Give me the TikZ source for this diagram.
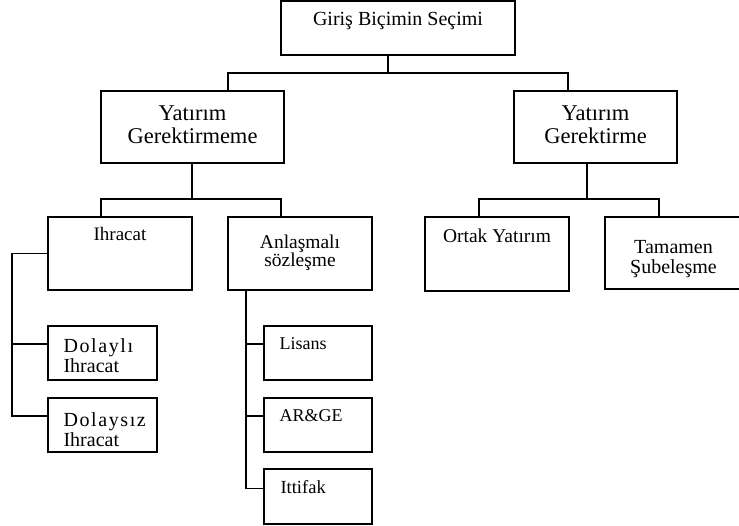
\documentclass[tikz,border=0pt]{standalone}
\usepackage{fontspec}
\setmainfont{Liberation Serif}
\newcommand{\spaced}[1]{{\addfontfeature{LetterSpace=8}#1}}

\begin{document}
\begin{tikzpicture}[x=1pt, y=-1pt, line width=1.1pt,
    box/.style={draw, rectangle, outer sep=0pt, inner sep=0pt, anchor=north west},
    txt/.style 2 args={inner sep=0pt, align=center, font=\fontsize{#1}{#2}\selectfont}]

    \useasboundingbox (0,0) rectangle (739,526);

    % level 0 and 1
    \node[box, minimum width=234, minimum height=54,
          label={[txt={20}{22}, anchor=north, yshift=-11pt]north:Giriş Biçimin Seçimi}] (top) at (281,1) {};
    \node[box, minimum width=183, minimum height=72,
          label={[txt={22.5}{23}, anchor=north, yshift=-14pt]north:{Yatırım\\Gerektirmeme}}] (ygm) at (101,91) {};
    \node[box, minimum width=163, minimum height=72,
          label={[txt={22.5}{23}, anchor=north, yshift=-14pt]north:{Yatırım\\Gerektirme}}] (yg) at (514,91) {};

    % level 2
    \node[box, minimum width=144, minimum height=73,
          label={[txt={19}{20}, anchor=north, yshift=-10pt]north:Ihracat}] (ihr) at (48,217) {};
    \node[box, minimum width=144, minimum height=73,
          label={[txt={19.5}{18}, anchor=north, yshift=-17pt]north:{Anlaşmalı\\sözleşme}}] (ans) at (228,217) {};
    \node[box, minimum width=144, minimum height=74,
          label={[txt={19.5}{20}, anchor=north, yshift=-11pt]north:Ortak Yatırım}] (ort) at (425,217) {};
    \node[box, minimum width=137, minimum height=72,
          label={[txt={20}{20}, anchor=north, yshift=-23pt]north:{Tamamen\\Şubeleşme}}] (tam) at (605,217) {};

    % level 3
    \node[box, minimum width=109, minimum height=54,
          label={[txt={20}{20}, align=left, anchor=north west, xshift=15pt, yshift=-12pt]north west:{\spaced{Dolaylı}\\Ihracat}}] (dly) at (48,326) {};
    \node[box, minimum width=109, minimum height=54,
          label={[txt={20}{20}, align=left, anchor=north west, xshift=15pt, yshift=-14pt]north west:{\spaced{Dolaysız}\\Ihracat}}] (dsz) at (48,398) {};
    \node[box, minimum width=108, minimum height=54,
          label={[txt={18}{20}, anchor=north west, xshift=15pt, yshift=-11pt]north west:Lisans}] (lis) at (264,326) {};
    \node[box, minimum width=108, minimum height=54,
          label={[txt={18}{20}, anchor=north west, xshift=15pt, yshift=-11pt]north west:AR\&GE}] (arg) at (264,398) {};
    \node[box, minimum width=108, minimum height=55,
          label={[txt={18.5}{20}, anchor=north west, xshift=16pt, yshift=-11pt]north west:Ittifak}] (itt) at (264,469) {};

    % connectors
    \draw ([xshift=107pt]top.south west) -- ++(0,18) coordinate (j1);
    \draw (j1) -| ([xshift=127pt]ygm.north west);
    \draw (j1) -| ([xshift=54pt]yg.north west);

    \draw ([xshift=91pt]ygm.south west) -- ++(0,36) coordinate (j2);
    \draw (j2) -| ([xshift=53pt]ihr.north west);
    \draw (j2) -| ([xshift=53pt]ans.north west);

    \draw ([xshift=73pt]yg.south west) -- ++(0,36) coordinate (j3);
    \draw (j3) -| ([xshift=54pt]ort.north west);
    \draw (j3) -| ([xshift=54pt]tam.north west);

    \draw (ihr.west) -- ++(-36,0) |- ([yshift=9pt]dsz.west);
    \draw ([yshift=9pt]dly.west) -- ++(-36,0);

    \draw ([xshift=18pt]ans.south west) |- ([yshift=8pt]itt.west);
    \draw ([yshift=9pt]lis.west) -- ++(-18,0);
    \draw ([yshift=9pt]arg.west) -- ++(-18,0);

\end{tikzpicture}
\end{document}
